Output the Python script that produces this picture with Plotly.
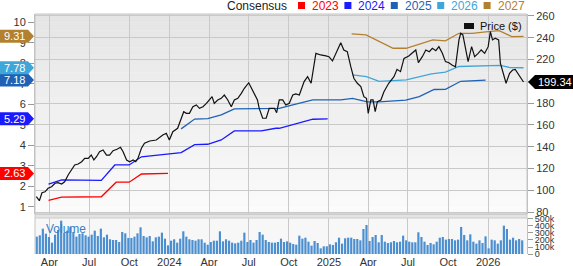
import plotly.graph_objects as go
import pandas as pd

# ---------------- data ----------------
price_dates = [
    "2023-03-02","2023-03-09","2023-03-15","2023-03-22","2023-03-29","2023-04-06","2023-04-14","2023-04-21","2023-04-29","2023-05-06",
    "2023-05-14","2023-05-22","2023-05-29","2023-06-06","2023-06-14","2023-06-21","2023-06-29","2023-07-06","2023-07-12","2023-07-18",
    "2023-07-25","2023-08-02","2023-08-10","2023-08-17","2023-08-25","2023-09-03","2023-09-11","2023-09-17","2023-09-25","2023-10-02",
    "2023-10-10","2023-10-16","2023-10-21","2023-10-29","2023-11-05","2023-11-17","2023-12-02","2023-12-17","2023-12-25","2024-01-01",
    "2024-01-09","2024-01-20","2024-01-28","2024-02-03","2024-02-09","2024-02-16","2024-02-24","2024-03-03","2024-03-10","2024-03-18",
    "2024-03-26","2024-04-02","2024-04-08","2024-04-13","2024-04-21","2024-04-29","2024-05-06","2024-05-14","2024-05-22","2024-05-29",
    "2024-06-06","2024-06-14","2024-06-21","2024-07-01","2024-07-06","2024-07-14","2024-07-21","2024-07-25","2024-08-02","2024-08-10",
    "2024-08-17","2024-08-29","2024-09-03","2024-09-09","2024-09-17","2024-09-24","2024-10-02","2024-10-10","2024-10-17","2024-10-25",
    "2024-11-05","2024-11-13","2024-11-21","2024-12-02","2024-12-13","2024-12-25","2025-01-01","2025-01-09","2025-01-17","2025-01-24",
    "2025-01-28","2025-02-04","2025-02-12","2025-02-20","2025-02-27","2025-03-07","2025-03-15","2025-03-22","2025-03-28","2025-04-01",
    "2025-04-07","2025-04-12","2025-04-17","2025-04-22","2025-04-30","2025-05-07","2025-05-18","2025-05-30","2025-06-06","2025-06-14",
    "2025-06-22","2025-07-03","2025-07-11","2025-07-19","2025-07-25","2025-08-03","2025-08-11","2025-08-19","2025-08-26","2025-09-03",
    "2025-09-10","2025-09-18","2025-09-25","2025-10-03","2025-10-10","2025-10-18","2025-10-26","2025-10-30","2025-11-04","2025-11-10",
    "2025-11-16","2025-11-24","2025-12-01","2025-12-09","2025-12-16","2025-12-24","2026-01-01","2026-01-06","2026-01-11","2026-01-17",
    "2026-01-25","2026-01-29","2026-02-03","2026-02-11","2026-02-19","2026-02-26","2026-03-04","2026-03-12","2026-03-23",
]
price_values = [
    94.1, 90.4, 97.7, 98.6, 101.8, 103.2, 106.4, 107, 105.7, 107.8,
    114, 118.6, 123.2, 124.1, 126.2, 129.3, 129.3, 132.3, 127.8, 130.8,
    135.4, 137, 132.3, 132.3, 136.3, 137.6, 139.4, 135.4, 127.8, 126.2,
    127.8, 126.2, 129.3, 138.5, 143.1, 145.2, 146.1, 150.7, 152.3, 146.1,
    153.8, 156.9, 166.1, 172.1, 170.6, 170.6, 176.7, 178.3, 175.2, 176.7,
    179.8, 183.5, 185.9, 179.8, 182.9, 184.4, 187.4, 182.9, 176.7, 182.9,
    184.4, 189, 193.6, 198.7, 195.1, 189, 182.9, 175.2, 166.1, 166.1,
    175.2, 175.2, 171.2, 182.9, 182.9, 178.3, 179.8, 187.4, 188.4, 187.4,
    199.7, 204.3, 198.2, 225.7, 224.2, 223.3, 222.6, 218.7, 225.7, 233.4,
    235.5, 228.8, 227.2, 213.4, 202.8, 198.2, 195.1, 185.9, 184.4, 170.6,
    182.9, 182.9, 172.1, 181.3, 182.9, 190.5, 198.2, 204.3, 211, 208.9,
    221.1, 223.3, 225.7, 228.8, 217.1, 222.6, 228.8, 227.2, 230.3, 228.1,
    231.8, 225.7, 218.1, 217.1, 215, 213.4, 238, 244.1, 242.6, 228.8,
    218.1, 231.8, 222.6, 225.7, 228.8, 225.7, 231.8, 245.6, 238, 239.5,
    238, 216.6, 208.9, 198.2, 207.4, 210.4, 211, 205.8, 199.34,
]

eps_2023_dates = ["2023-03-30","2023-04-29","2023-07-29","2023-09-01","2023-10-01","2023-10-29","2023-12-29"]
eps_2023 = [1.32, 1.47, 1.49, 2.20, 2.20, 2.60, 2.63]

eps_2024_dates = ["2023-03-30","2023-04-29","2023-07-29","2023-08-29","2023-10-01","2023-10-29","2024-01-28","2024-02-28",
                  "2024-03-29","2024-04-29","2024-05-29","2024-07-30","2024-09-01","2024-09-09","2024-11-25","2024-12-29"]
eps_2024 = [2.11, 2.31, 2.29, 3.04, 3.04, 3.44, 3.64, 4.03, 4.05, 4.26, 4.70, 4.70, 4.83, 4.83, 5.27, 5.29]

eps_2025_dates = ["2024-01-28","2024-02-28","2024-03-29","2024-04-29","2024-05-29","2024-09-09","2024-10-10","2024-11-25",
                  "2025-01-28","2025-02-24","2025-03-30","2025-04-26","2025-06-26","2025-07-27","2025-08-30","2025-09-25",
                  "2025-10-30","2025-12-26"]
eps_2025 = [4.80, 5.28, 5.30, 5.48, 5.77, 5.80, 5.97, 6.21, 6.21, 6.29, 6.12, 6.12, 6.20, 6.37, 6.72, 6.73, 7.12, 7.18]

eps_2026_dates = ["2025-02-24","2025-03-28","2025-04-26","2025-06-27","2025-08-24","2025-09-25","2025-10-26","2026-01-29",
                  "2026-02-20","2026-03-23"]
eps_2026 = [7.43, 7.35, 7.12, 7.19, 7.48, 7.57, 7.84, 7.90, 7.79, 7.78]

eps_2027_dates = ["2025-02-22","2025-03-27","2025-05-28","2025-06-27","2025-08-27","2025-09-25","2025-10-26","2025-11-25",
                  "2026-01-01","2026-01-26","2026-02-24","2026-03-23"]
eps_2027 = [9.43, 9.38, 8.73, 8.73, 9.14, 9.09, 9.46, 9.46, 9.54, 9.59, 9.30, 9.31]

series_names = ["2023", "2024", "2025", "2026", "2027"]
series_colors = ["#ff0000", "#1a1aff", "#1f62b5", "#3fa6da", "#b3802f"]

volume_start = "2023-03-03"   # weekly bars
volume_k = [
    248,267,362,290,243,162,276,343,476,305, 333,381,314,248,286,295,267,248,276,333,
    257,362,238,276,210,200,200,171,314,295, 229,229,248,295,381,257,238,257,181,238,
    248,305,219,124,190,210,162,219,324,248, 210,200,190,210,210,162,133,171,190,190,
    324,181,210,190,162,152,162,190,305,171, 200,162,200,314,276,200,171,162,162,171,
    219,171,181,162,143,133,
    262,219,233,176,119,186,157,81,110,110, 138,129,167,233,148,224,233,233,214,214,
    195,357,414,186,243,271,167,271,176,157, 167,186,167,176,262,195,176,167,167,310,
    243,176,129,157,138,176,233,243,205,214, 214,195,205,386,271,195,281,176,148,195,
    157,252,81,205,195,148,195,405,357,205, 233,195,214,195,
]

x_tick_dates = ["2023-04-01","2023-07-01","2023-10-01","2024-01-01","2024-04-01","2024-07-01",
                "2024-10-01","2025-01-01","2025-04-01","2025-07-01","2025-10-01","2026-01-01"]
x_tick_labels = ["Apr","Jul","Oct","2024","Apr","Jul","Oct","2025","Apr","Jul","Oct","2026"]
price_ticks = [80, 100, 120, 140, 160, 180, 200, 220, 240, 260]
eps_ticks = [1, 2, 3, 4, 5, 6, 7, 8, 9, 10]
vol_ticks = [0, 100, 200, 300, 400, 500]
vol_tick_labels = ["0", "100k", "200k", "300k", "400k", "500k"]

# ---------------- layout helpers ----------------
W, H = 573, 266
ML, MR, MT, MB = 35, 46, 14, 12
PW, PH = W - ML - MR, H - MT - MB


def pxx(x):
    return (x - ML) / PW


def pyy(y):
    return (H - MB - y) / PH


FONT = "Liberation Sans, Arial, sans-serif"
GRID = "#c9c9c9"
main_dom = [pyy(214), 1.0]
vol_dom = [0.0, pyy(218)]

fig = go.Figure()

eps_dates = [eps_2023_dates, eps_2024_dates, eps_2025_dates, eps_2026_dates, eps_2027_dates]
eps_vals = [eps_2023, eps_2024, eps_2025, eps_2026, eps_2027]
for name, col, d, v in zip(series_names, series_colors, eps_dates, eps_vals):
    fig.add_trace(go.Scatter(x=d, y=v, mode="lines", name=name, xaxis="x", yaxis="y",
                             line=dict(color=col, width=1.3), showlegend=False, hoverinfo="skip"))

fig.add_trace(go.Scatter(x=price_dates, y=price_values, mode="lines", name="Price ($)",
                         xaxis="x", yaxis="y2", line=dict(color="#111111", width=1.2),
                         showlegend=False, hoverinfo="skip"))

vol_dates = pd.date_range(volume_start, periods=len(volume_k), freq="7D")
fig.add_trace(go.Bar(x=vol_dates, y=volume_k, xaxis="x2", yaxis="y3", width=5 * 86400000,
                     marker=dict(color="#4b8fd1", line=dict(width=0)), showlegend=False,
                     hoverinfo="skip"))

xrange = ["2023-02-27", "2026-03-31"]
common_x = dict(range=xrange, type="date", tickvals=x_tick_dates, showgrid=True,
                gridcolor=GRID, gridwidth=1, zeroline=False, ticks="", automargin=False)

fig.update_layout(
    width=W, height=H, margin=dict(l=ML, r=MR, t=MT, b=MB, autoexpand=False),
    paper_bgcolor="white", plot_bgcolor="#f7f7f7",
    font=dict(family=FONT, size=11, color="#333333"),
    showlegend=False, hovermode=False,
    xaxis=dict(**common_x, anchor="y", showticklabels=False),
    xaxis2=dict(**common_x, anchor="y3", matches="x", ticktext=x_tick_labels,
                showticklabels=True, tickfont=dict(size=11, color="#333333")),
    yaxis=dict(domain=main_dom, range=[0.65, 10.40], tickvals=eps_ticks, side="left",
               showgrid=False, zeroline=False, ticks="outside", ticklen=6, tickcolor="#999999",
               showline=True, linecolor="#c0c0c0", tickfont=dict(size=11, color="#333333"),
               automargin=False),
    yaxis2=dict(overlaying="y", side="right", range=[78.2, 261.8], tickvals=price_ticks,
                showgrid=True, gridcolor=GRID, zeroline=False, ticks="outside", ticklen=6,
                tickcolor="#999999", showline=True, linecolor="#c0c0c0",
                tickfont=dict(size=11, color="#333333"), automargin=False),
    yaxis3=dict(domain=vol_dom, anchor="x2", side="right", range=[0, 514], tickvals=vol_ticks,
                ticktext=vol_tick_labels, showgrid=False, zeroline=False, ticks="outside",
                ticklen=5, tickcolor="#999999", showline=True, linecolor="#c0c0c0",
                tickfont=dict(size=9, color="#333333"), automargin=False),
)

shapes = []
# gradient background of the price panel
n_bands = 24
top_c, bot_c = 229, 251
for i in range(n_bands):
    y0 = main_dom[0] + (main_dom[1] - main_dom[0]) * i / n_bands
    y1 = main_dom[0] + (main_dom[1] - main_dom[0]) * (i + 1) / n_bands
    c = round(bot_c + (top_c - bot_c) * (i + 0.5) / n_bands)
    shapes.append(dict(type="rect", xref="paper", yref="paper", x0=0, x1=1, y0=y0, y1=y1,
                       fillcolor=f"rgb({c},{c},{c})", line=dict(width=0), layer="below"))
# separator band between panels
shapes.append(dict(type="rect", xref="paper", yref="paper", x0=0, x1=1, y0=vol_dom[1], y1=main_dom[0],
                   fillcolor="#e3e3e3", line=dict(color="#cccccc", width=1), layer="above"))
# panel borders
shapes.append(dict(type="rect", xref="paper", yref="paper", x0=0, x1=1, y0=main_dom[0], y1=1,
                   fillcolor="rgba(0,0,0,0)", line=dict(color="#c4c4c4", width=1), layer="above"))
shapes.append(dict(type="line", xref="paper", yref="paper", x0=0, x1=0, y0=0, y1=vol_dom[1],
                   line=dict(color="#c4c4c4", width=1)))

annotations = []
# EPS tags on the left
for i in range(len(series_names)):
    val = eps_vals[i][-1]
    shapes.append(dict(type="path", xref="paper", yref="y", xsizemode="pixel", ysizemode="pixel",
                       xanchor=0, yanchor=val,
                       path="M-35,-6.5 L-7,-6.5 L-1,0 L-7,6.5 L-35,6.5 Z",
                       fillcolor=series_colors[i], line=dict(width=0), layer="above"))
    annotations.append(dict(xref="paper", yref="y", x=0, y=val, xanchor="right", yanchor="middle",
                            xshift=-8, text=f"{val:.2f}", showarrow=False,
                            font=dict(size=11, color="white", family=FONT)))

# last price tag on the right
last_price = price_values[-1]
shapes.append(dict(type="path", xref="paper", yref="y2", xsizemode="pixel", ysizemode="pixel",
                   xanchor=1, yanchor=last_price,
                   path="M1,0 L8,-7 L46,-7 L46,7 L8,7 Z",
                   fillcolor="#000000", line=dict(width=0), layer="above"))
annotations.append(dict(xref="paper", yref="y2", x=1, y=last_price, xanchor="left", yanchor="middle",
                        xshift=9, text=f"{last_price:.2f}", showarrow=False,
                        font=dict(size=11, color="white", family=FONT)))

# top legend
annotations.append(dict(xref="paper", yref="paper", x=pxx(225), y=pyy(6), xanchor="left", yanchor="middle",
                        text="Consensus", showarrow=False, font=dict(size=12, color="#222222")))
for k, (name, col) in enumerate(zip(series_names, series_colors)):
    sx = 298 + 46.4 * k
    shapes.append(dict(type="rect", xref="paper", yref="paper", x0=pxx(sx), x1=pxx(sx + 7),
                       y0=pyy(9), y1=pyy(2), fillcolor=col, line=dict(width=0)))
    annotations.append(dict(xref="paper", yref="paper", x=pxx(sx + 12), y=pyy(6), xanchor="left",
                            yanchor="middle", text=name, showarrow=False,
                            font=dict(size=12, color=col)))

# price legend inside chart
shapes.append(dict(type="rect", xref="paper", yref="paper", x0=pxx(464), x1=pxx(474),
                   y0=pyy(29), y1=pyy(23), fillcolor="#111111", line=dict(width=0), layer="above"))
annotations.append(dict(xref="paper", yref="paper", x=pxx(478), y=pyy(26), xanchor="left",
                        yanchor="middle", text="Price ($)", showarrow=False,
                        font=dict(size=11, color="#111111")))
# volume label
annotations.append(dict(xref="paper", yref="paper", x=pxx(44), y=pyy(229), xanchor="left",
                        yanchor="middle", text="Volume", showarrow=False,
                        font=dict(size=12, color="#3b80c4")))

fig.update_layout(shapes=shapes, annotations=annotations)
fig.write_html("out.html")
